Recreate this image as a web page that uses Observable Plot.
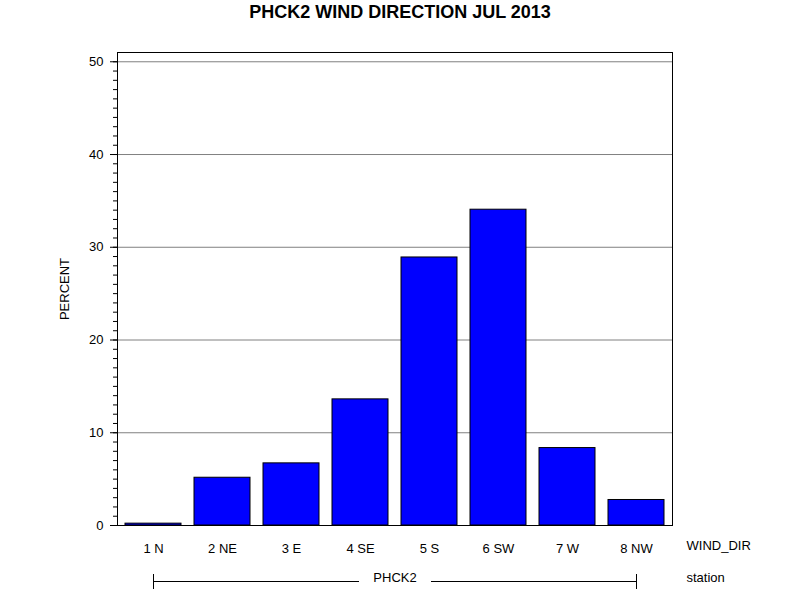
<!DOCTYPE html>
<html><head><meta charset="utf-8">
<script src="https://cdn.jsdelivr.net/npm/d3@7"></script>
<script src="https://cdn.jsdelivr.net/npm/@observablehq/plot@0.6"></script>
<style>
body{margin:0;background:#fff;font-family:"Liberation Sans",Arial,sans-serif}
#title{width:800px;height:30px;text-align:center;font-weight:bold;font-size:18px;line-height:24px;color:#000}
#chart svg{display:block}
</style></head><body>
<div id="title">PHCK2 WIND DIRECTION JUL 2013</div>
<div id="chart"></div>
<script>
const directions = ["1 N","2 NE","3 E","4 SE","5 S","6 SW","7 W","8 NW"];
const percents = [0.2, 5.15, 6.7, 13.6, 28.9, 34.05, 8.35, 2.75];
const station = "PHCK2";
const yMajorTicks = [0, 10, 20, 30, 40, 50];
const yMinorTicks = d3.range(0, 51, 1);

const data = directions.map((d, i) => ({dir: d, pct: percents[i]}));

function bracket(index, scales, values, dims) {
  let x = scales.x;
  let bw = x && x.bandwidth ? x.bandwidth() : 0;
  if (typeof x !== "function" && scales.scales) { const s = scales.scales.x; x = s.apply; bw = s.bandwidth || 0; }
  const x1 = x(directions[0]) + bw / 2;
  const x2 = x(directions[directions.length - 1]) + bw / 2;
  const cx = (dims.marginLeft + dims.width - dims.marginRight) / 2;
  const y = dims.height - dims.marginBottom + 56;
  const g = d3.create("svg:g").attr("stroke", "black").attr("stroke-width", 1).attr("shape-rendering", "crispEdges");
  g.append("line").attr("x1", x1).attr("x2", cx - 36).attr("y1", y).attr("y2", y);
  g.append("line").attr("x1", cx + 36).attr("x2", x2).attr("y1", y).attr("y2", y);
  g.append("line").attr("x1", x1).attr("x2", x1).attr("y1", y - 7).attr("y2", y + 8);
  g.append("line").attr("x1", x2).attr("x2", x2).attr("y1", y - 7).attr("y2", y + 8);
  return g.node();
}

const plot = Plot.plot({
  width: 800, height: 570,
  marginTop: 22, marginBottom: 75, marginLeft: 117, marginRight: 128,
  style: {fontFamily: '"Liberation Sans", Arial, sans-serif', fontSize: "13px", background: "white", color: "black"},
  x: {domain: directions, paddingInner: 0.19, paddingOuter: 0.095, label: null},
  y: {domain: [0, 51], label: null},
  marks: [
    Plot.gridY(yMajorTicks.filter(v => v > 0), {stroke: "#808080", strokeOpacity: 1}),
    Plot.barY(data, {x: "dir", y: "pct", fill: "#0000FF", stroke: "black", strokeWidth: 1}),
    Plot.frame({stroke: "black"}),
    Plot.axisY(yMinorTicks, {tickSize: 4, tickFormat: () => "", label: null}),
    Plot.axisY(yMajorTicks, {tickSize: 7, tickPadding: 7, label: null}),
    Plot.axisX({tickSize: 0, tickPadding: 18, label: null}),
    Plot.text(["WIND_DIR"], {frameAnchor: "bottom-right", dx: 14, dy: 24, textAnchor: "start"}),
    Plot.text(["station"], {frameAnchor: "bottom-right", dx: 14, dy: 56, textAnchor: "start"}),
    Plot.text([station], {frameAnchor: "bottom", dy: 56}),
    Plot.text(["PERCENT"], {frameAnchor: "left", rotate: -90, dx: -53, textAnchor: "middle"}),
    bracket
  ]
});
document.getElementById("chart").appendChild(plot);
</script>
</body></html>
